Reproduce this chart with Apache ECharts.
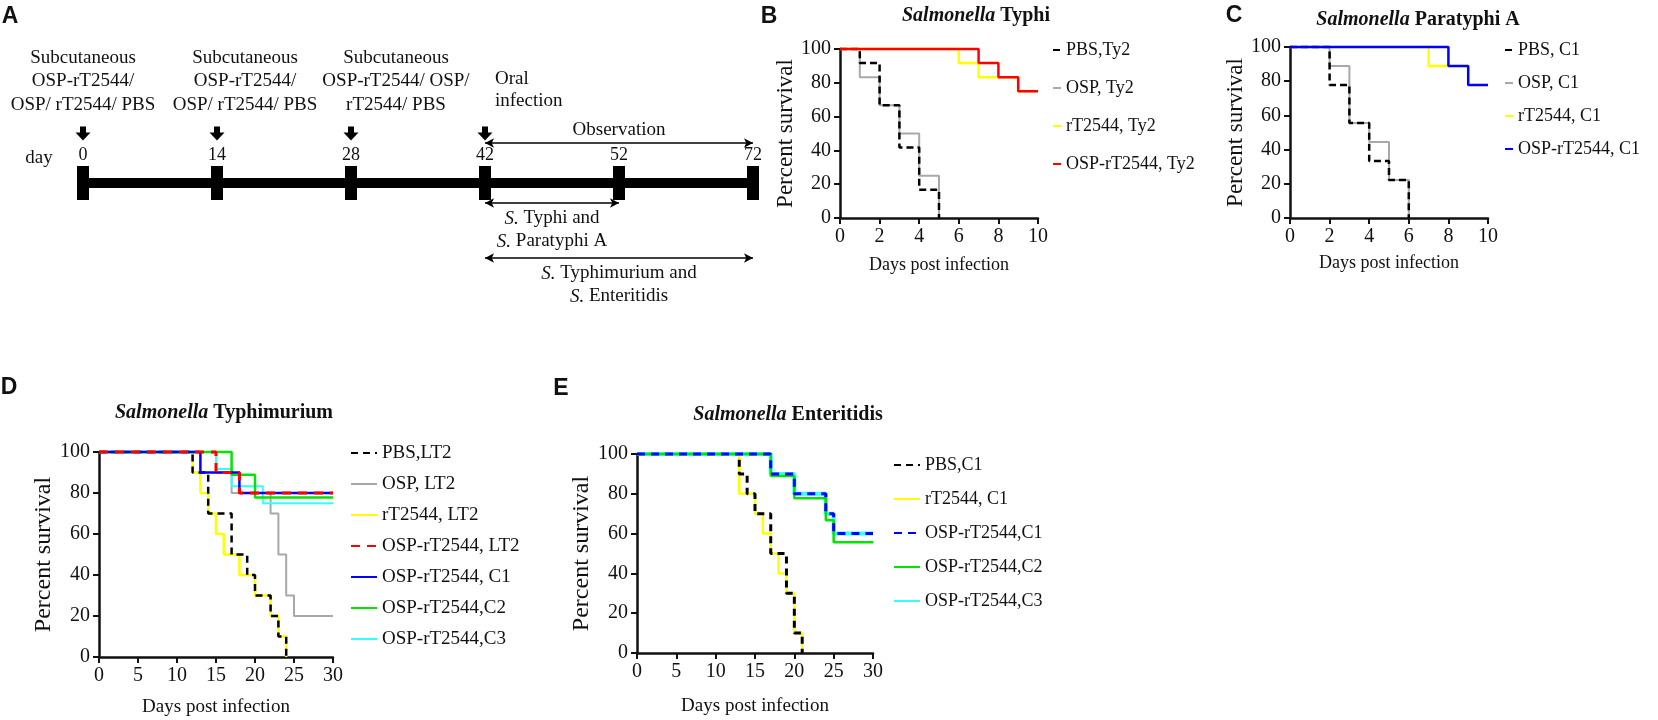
<!DOCTYPE html>
<html>
<head>
<meta charset="utf-8">
<style>
  html, body { margin: 0; background: #fff; }
  #main { width: 1658px; height: 720px; }
</style>
</head>
<body>
<div id="main"></div>
<script src="https://cdn.jsdelivr.net/npm/echarts@6/dist/echarts.min.js"></script>
<script>
// ---- panel A: immunisation schedule (days) ----
var timelineDays = ['0', '14', '28', '42', '52', '72'];
var doseDays = ['0', '14', '28'];
var doseLabels = [
    'Subcutaneous\nOSP-rT2544/\nOSP/ rT2544/ PBS',
    'Subcutaneous\nOSP-rT2544/\nOSP/ rT2544/ PBS',
    'Subcutaneous\nOSP-rT2544/ OSP/\nrT2544/ PBS'
];
var infectionDay = '42';
var typhiEndDay = '52';
var lastDay = '72';

// ---- panel B: S. Typhi, [day, percent survival] ----
var typhiNames = ['PBS,Ty2', 'OSP, Ty2', 'rT2544, Ty2', 'OSP-rT2544, Ty2'];
var typhiPBS = [[0, 100], [1, 91.7], [2, 66.7], [3, 41.7], [4, 16.7], [5, 0]];
var typhiOSP = [[0, 100], [1, 83.3], [2, 66.7], [3, 50], [4, 25], [5, 0]];
var typhiRT = [[0, 100], [6, 91.7], [7, 83.3], [9, 75], [10, 75]];
var typhiOSPRT = [[0, 100], [7, 91.7], [8, 83.3], [9, 75], [10, 75]];

// ---- panel C: S. Paratyphi A ----
var paraNames = ['PBS, C1', 'OSP, C1', 'rT2544, C1', 'OSP-rT2544, C1'];
var paraPBS = [[0, 100], [2, 77.8], [3, 55.6], [4, 33.3], [5, 22.2], [6, 0]];
var paraOSP = [[0, 100], [2, 88.9], [3, 55.6], [4, 44.4], [5, 22.2], [6, 0]];
var paraRT = [[0, 100], [7, 88.9], [9, 77.8], [10, 77.8]];
var paraOSPRT = [[0, 100], [8, 88.9], [9, 77.8], [10, 77.8]];

// ---- panel D: S. Typhimurium ----
var tmNames = ['PBS,LT2', 'OSP, LT2', 'rT2544, LT2', 'OSP-rT2544, LT2',
               'OSP-rT2544, C1', 'OSP-rT2544,C2', 'OSP-rT2544,C3'];
var tmPBS = [[0, 100], [12, 90], [14, 70], [17, 50], [19, 40], [20, 30], [22, 20], [23, 10], [24, 0]];
var tmOSP = [[0, 100], [15, 90], [17, 80], [22, 70], [23, 50], [24, 30], [25, 20], [30, 20]];
var tmRT = [[0, 100], [12, 90], [13, 80], [14, 70], [15, 60], [16, 50], [18, 40], [20, 30], [22, 20], [23, 10], [24, 0]];
var tmOSPRT = [[0, 100], [15, 90], [18, 80], [30, 80]];
var tmC1 = [[0, 100], [13, 90], [18, 80], [30, 80]];
var tmC2 = [[0, 100], [17, 88.9], [20, 77.8], [30, 77.8]];
var tmC3 = [[0, 100], [15, 91.7], [17, 83.3], [21, 75], [30, 75]];

// ---- panel E: S. Enteritidis ----
var enNames = ['PBS,C1', 'rT2544, C1', 'OSP-rT2544,C1', 'OSP-rT2544,C2', 'OSP-rT2544,C3'];
var enPBS = [[0, 100], [13, 90], [14, 80], [15, 70], [17, 50], [19, 30], [20, 10], [21, 0]];
var enRT = [[0, 100], [13, 80], [15, 70], [16, 60], [17, 50], [18, 40], [19, 30], [20, 10], [21, 0]];
var enC1 = [[0, 100], [17, 90], [20, 80], [24, 70], [25, 60], [30, 60]];
var enC2 = [[0, 100], [17, 88.9], [20, 77.8], [24, 66.7], [25, 55.6], [30, 55.6]];
var enC3 = [[0, 100], [17, 90], [20, 80], [24, 70], [25, 60], [30, 60]];

var serif = '"Liberation Serif", "Times New Roman", serif';
var sans = '"Liberation Sans", Arial, sans-serif';
var ink = '#111';

function km(name, data, grid, color, width, dash) {
    return {
        type: 'line', name: name, data: data, step: 'end',
        xAxisIndex: grid, yAxisIndex: grid,
        symbol: 'none', clip: false, silent: true,
        lineStyle: { color: color, width: width, type: dash || 'solid' },
        itemStyle: { color: color }
    };
}

function survX(grid, max, step, labelSize, nameSize, nameGap) {
    return {
        gridIndex: grid, type: 'value', min: 0, max: max, interval: step,
        name: 'Days post infection', nameLocation: 'middle', nameGap: nameGap,
        nameTextStyle: { fontFamily: serif, fontSize: nameSize, color: ink },
        axisLine: { show: true, onZero: false, lineStyle: { color: ink, width: 2.5 } },
        axisTick: { show: true, length: 6, lineStyle: { color: ink, width: 2 } },
        axisLabel: { margin: 9, fontFamily: serif, fontSize: labelSize, color: ink },
        splitLine: { show: false }
    };
}

function survY(grid, labelSize, nameSize, nameGap) {
    return {
        gridIndex: grid, type: 'value', min: 0, max: 100, interval: 20,
        name: 'Percent survival', nameLocation: 'middle', nameGap: nameGap,
        nameTextStyle: { fontFamily: serif, fontSize: nameSize, color: ink },
        axisLine: { show: true, lineStyle: { color: ink, width: 2.5 } },
        axisTick: { show: true, length: 6, lineStyle: { color: ink, width: 2 } },
        axisLabel: { margin: 9, fontFamily: serif, fontSize: labelSize, color: ink },
        splitLine: { show: false }
    };
}

function survLegend(names, left, top, gap, iconW, size) {
    return {
        data: names, orient: 'vertical', left: left, top: top, padding: 0,
        itemGap: gap, itemWidth: iconW, itemHeight: 12, selectedMode: false,
        itemStyle: { opacity: 0 },
        textStyle: { fontFamily: serif, fontSize: size, color: ink, lineHeight: 20 }
    };
}

function label(text, x, y, font, rich) {
    return {
        type: 'text', x: x, y: y, silent: true,
        style: { text: text, font: font, fill: ink, align: 'center', verticalAlign: 'middle', rich: rich }
    };
}

function panelTitle(species, x, y) {
    return label('{i|Salmonella} ' + species, x, y, 'bold 20px ' + serif,
        { i: { font: 'italic bold 20px ' + serif, fill: ink } });
}

var italicS = { i: { fontFamily: serif, fontSize: 19, fontStyle: 'italic', color: ink } };
var labelShift = [0, 28, 45];

var option = {
    animation: false,
    backgroundColor: '#fff',
    graphic: [
        label('A', 10, 17, 'bold 23px ' + sans),
        label('B', 769, 17, 'bold 23px ' + sans),
        label('C', 1234, 16, 'bold 23px ' + sans),
        label('D', 9, 388, 'bold 23px ' + sans),
        label('E', 561, 389, 'bold 23px ' + sans),
        label('day', 39, 158, '19px ' + serif),
        panelTitle('Typhi', 976, 16),
        panelTitle('Paratyphi A', 1418, 20),
        panelTitle('Typhimurium', 224, 413),
        panelTitle('Enteritidis', 788, 415)
    ],
    grid: [
        { left: 83, top: 0, width: 670, height: 720 },
        { left: 840, top: 49, width: 198, height: 169 },
        { left: 1290, top: 47, width: 198, height: 171 },
        { left: 99, top: 452, width: 234, height: 205 },
        { left: 637, top: 454, width: 236, height: 199 }
    ],
    xAxis: [
        { gridIndex: 0, type: 'category', data: timelineDays, boundaryGap: false, show: false },
        survX(1, 10, 2, 20, 18, 38),
        survX(2, 10, 2, 20, 18, 36),
        survX(3, 30, 5, 20, 19, 41),
        survX(4, 30, 5, 20, 19, 44)
    ],
    yAxis: [
        { gridIndex: 0, type: 'value', min: 0, max: 720, inverse: true, show: false },
        survY(1, 20, 23, 34),
        survY(2, 20, 23, 30),
        survY(3, 20, 24, 39),
        survY(4, 20, 24, 37)
    ],
    legend: [
        survLegend(typhiNames, 1052, 40, 18, 8, 18),
        survLegend(paraNames, 1504, 40, 13, 8, 18),
        survLegend(tmNames, 350, 443, 11, 26, 19),
        survLegend(enNames, 893, 455, 14, 26, 18)
    ],
    series: [
        // panel A: timeline bar with observation windows
        {
            type: 'line', xAxisIndex: 0, yAxisIndex: 0, silent: true, symbol: 'none',
            data: [[timelineDays[0], 183], [lastDay, 183]],
            lineStyle: { color: '#000', width: 10 },
            markLine: {
                silent: true, symbol: ['arrow', 'arrow'], symbolSize: [7, 9],
                lineStyle: { color: '#000', width: 1.5, type: 'solid' },
                label: { fontFamily: serif, fontSize: 19, color: ink, lineHeight: 23, rich: italicS },
                data: [
                    [{ coord: [infectionDay, 143], label: { formatter: 'Observation', position: 'insideMiddleTop', distance: 1 } },
                     { coord: [lastDay, 143] }],
                    [{ coord: [infectionDay, 203], label: { formatter: '{i|S.} Typhi and\n{i|S.} Paratyphi A', position: 'insideMiddleBottom', distance: 4 } },
                     { coord: [typhiEndDay, 203] }],
                    [{ coord: [infectionDay, 258], label: { formatter: '{i|S.} Typhimurium and\n{i|S.} Enteritidis', position: 'insideMiddleBottom', distance: 4 } },
                     { coord: [lastDay, 258] }]
                ]
            }
        },
        {
            type: 'scatter', xAxisIndex: 0, yAxisIndex: 0, silent: true,
            symbol: 'rect', symbolSize: [12, 34], itemStyle: { color: '#000', opacity: 1 },
            data: timelineDays.map(function (d) { return [d, 183]; }),
            label: {
                show: true, position: 'top', distance: 2, color: ink,
                fontFamily: serif, fontSize: 18,
                formatter: function (p) { return p.value[0]; }
            }
        },
        {
            type: 'scatter', xAxisIndex: 0, yAxisIndex: 0, silent: true,
            symbol: 'path://M4.5,0 L10.5,0 L10.5,6 L15,6 L7.5,14 L0,6 L4.5,6 Z', symbolSize: [15, 14],
            itemStyle: { color: '#000', opacity: 1 },
            label: { show: true, position: 'top', distance: 10, color: ink, fontFamily: serif, fontSize: 19, lineHeight: 23.5 },
            data: doseDays.map(function (d, i) {
                return { value: [d, 133.5], label: { formatter: doseLabels[i], offset: [labelShift[i], 0] } };
            }).concat([{
                value: [infectionDay, 133.5],
                label: { formatter: 'Oral\ninfection', align: 'left', offset: [10, 0], lineHeight: 22, distance: 14 }
            }])
        },

        // panel B
        km(typhiNames[1], typhiOSP, 1, '#a8a8a8', 2),
        km(typhiNames[0], typhiPBS, 1, '#000', 2.5, [7, 4]),
        km(typhiNames[2], typhiRT, 1, '#ffff00', 2.5),
        km(typhiNames[3], typhiOSPRT, 1, '#ff0000', 2.5),

        // panel C
        km(paraNames[1], paraOSP, 2, '#a8a8a8', 2),
        km(paraNames[0], paraPBS, 2, '#000', 2.5, [7, 4]),
        km(paraNames[2], paraRT, 2, '#ffff00', 2.5),
        km(paraNames[3], paraOSPRT, 2, '#0000ff', 2.5),

        // panel D
        km(tmNames[2], tmRT, 3, '#ffff00', 2.5),
        km(tmNames[0], tmPBS, 3, '#000', 2.5, [7, 5]),
        km(tmNames[1], tmOSP, 3, '#a8a8a8', 2),
        km(tmNames[6], tmC3, 3, '#33ffff', 2),
        km(tmNames[5], tmC2, 3, '#00e600', 2.5),
        km(tmNames[4], tmC1, 3, '#0000ff', 2.5),
        km(tmNames[3], tmOSPRT, 3, '#ff0000', 3, [9, 7]),

        // panel E
        km(enNames[1], enRT, 4, '#ffff00', 2.5),
        km(enNames[0], enPBS, 4, '#000', 3, [7, 5]),
        km(enNames[4], enC3, 4, '#33ffff', 4),
        km(enNames[3], enC2, 4, '#00e600', 2.5),
        km(enNames[2], enC1, 4, '#0000ff', 3, [8, 6])
    ]
};

var chart = echarts.init(document.getElementById('main'));
chart.setOption(option);
</script>
</body>
</html>
